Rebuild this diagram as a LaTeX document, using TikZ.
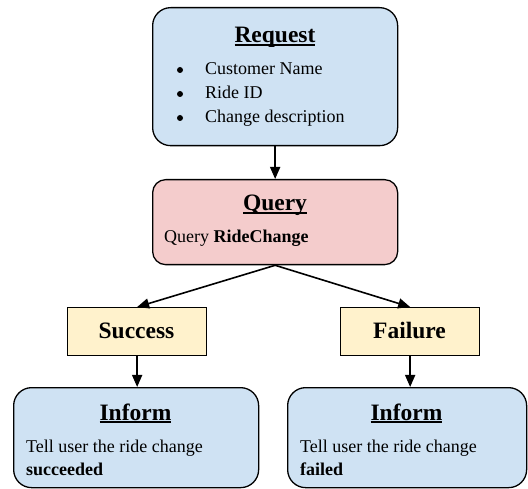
\documentclass[tikz,border=0pt]{standalone}
\usepackage{fontspec}
\setmainfont{Liberation Serif}
\usetikzlibrary{arrows.meta}
\definecolor{bluefill}{HTML}{CFE2F3}
\definecolor{redfill}{HTML}{F4CCCC}
\definecolor{yellowfill}{HTML}{FFF2CC}
\newcommand{\myul}[1]{\setbox0\hbox{#1}\rlap{\rule[-3pt]{\wd0}{1.8pt}}\box0}
\begin{document}
\begin{tikzpicture}[x=1pt,y=-1pt,
  box/.style={draw=black, line width=1.3pt, inner sep=0pt, anchor=north west},
  bluebox/.style={box, fill=bluefill, rounded corners=18pt},
  redbox/.style={box, fill=redfill, rounded corners=13pt},
  yellowbox/.style={box, fill=yellowfill},
  title/.style={inner sep=0pt, font=\fontsize{23.5}{28}\selectfont\bfseries},
  body/.style={inner sep=0pt, font=\fontsize{18}{24}\selectfont},
  bulletdot/.style={circle, fill=black, inner sep=0pt, minimum size=6pt},
  conn/.style={line width=1.6pt, -{Triangle[length=12pt,width=10pt]}}]
\useasboundingbox (0,0) rectangle (528,489);
% boxes
\node[bluebox, minimum width=245pt, minimum height=138pt] (req) at (152,7) {};
\node[redbox, minimum width=245pt, minimum height=85pt] (query) at (152,179) {};
\node[yellowbox, minimum width=139pt, minimum height=48pt] (succ) at (67,307) {};
\node[yellowbox, minimum width=139pt, minimum height=48pt] (fail) at (340,307) {};
\node[bluebox, minimum width=245pt, minimum height=100pt] (infL) at (13,387) {};
\node[bluebox, minimum width=239pt, minimum height=100pt] (infR) at (287,387) {};
% texts
\node[title, anchor=base] (reqT) at (275,43) {\myul{Request}};
\node[bulletdot] (b1) at (180,70) {};
\node[body, anchor=base west] (i1) at (205,75) {Customer Name};
\node[bulletdot] (b2) at (180,94) {};
\node[body, anchor=base west] (i2) at (205,99) {Ride ID};
\node[bulletdot] (b3) at (180,118) {};
\node[body, anchor=base west] (i3) at (205,123) {Change description};
\node[title, anchor=base] (queryT) at (275,211) {\myul{Query}};
\node[body, anchor=base west] (queryL) at (164,243) {Query \textbf{RideChange}};
\node[title, anchor=base] (succT) at (136.5,339) {Success};
\node[title, anchor=base] (failT) at (409.5,339) {Failure};
\node[title, anchor=base] (infLT) at (135.5,420) {\myul{Inform}};
\node[body, anchor=base west] (infL1) at (26,452) {Tell user the ride change};
\node[body, anchor=base west] (infL2) at (26,475) {\textbf{succeeded}};
\node[title, anchor=base] (infRT) at (406.5,420) {\myul{Inform}};
\node[body, anchor=base west] (infR1) at (300,452) {Tell user the ride change};
\node[body, anchor=base west] (infR2) at (300,475) {\textbf{failed}};
% connectors
\draw[conn] (req.south) -- (query.north);
\draw[conn] (query.south) -- (succ.north);
\draw[conn] (query.south) -- (fail.north);
\draw[conn] (succ.south) -- (succ.south |- infL.north);
\draw[conn] (fail.south) -- (fail.south |- infR.north);
\end{tikzpicture}
\end{document}
